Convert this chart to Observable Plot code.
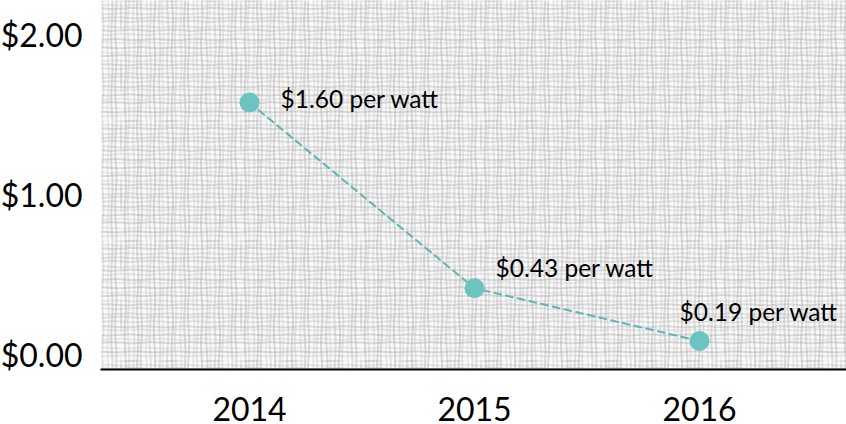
<!DOCTYPE html>
<html>
<head>
<meta charset="utf-8">
<script src="https://cdn.jsdelivr.net/npm/d3@7"></script>
<script src="https://cdn.jsdelivr.net/npm/@observablehq/plot@0.6"></script>
<style>
  html, body { margin: 0; padding: 0; background: #fff; }
  svg { display: block; font-family: Lato, "Open Sans", sans-serif; }
</style>
</head>
<body>
<div id="chart"></div>
<script>
const years = ["2014", "2015", "2016"];
const values = [1.59, 0.43, 0.10];
const labels = ["$1.60 per watt", "$0.43 per watt", "$0.19 per watt"];
const yTicks = [0, 1, 2];

const data = years.map((year, i) => ({year, value: values[i], label: labels[i]}));

const teal = "#6cc4c1";

const chart = Plot.plot({
  width: 846,
  height: 424,
  marginLeft: 101,
  marginRight: 0,
  marginTop: 0,
  marginBottom: 55,
  style: {fontFamily: "Lato, sans-serif", color: "#000", background: "transparent", overflow: "visible"},
  x: {type: "point", domain: years, padding: 0.65, label: null},
  y: {domain: [-0.078, 2.228], label: null},
  marks: [
    Plot.frame({fill: "url(#gridtex)", stroke: null}),
    Plot.frame({anchor: "bottom", stroke: "#000", strokeWidth: 2}),
    Plot.axisX({tickSize: 0, tickPadding: 29, fontSize: 32, label: null}),
    Plot.axisY({ticks: yTicks, tickSize: 0, tickPadding: 19, fontSize: 32, label: null,
      tickFormat: d => "$" + d.toFixed(2)}),
    Plot.line(data, {x: "year", y: "value", stroke: "#5fb5b3", strokeWidth: 2, strokeDasharray: "7,5"}),
    Plot.dot(data, {x: "year", y: "value", r: 10, fill: teal, stroke: null}),
    Plot.text(data.filter(d => d.year === "2014"), {x: "year", y: "value", text: "label", textAnchor: "start", dx: 31, dy: -2, fontSize: 24.5, fill: "#000"}),
    Plot.text(data.filter(d => d.year === "2015"), {x: "year", y: "value", text: "label", textAnchor: "start", dx: 21, dy: -19, fontSize: 24.5, fill: "#000"}),
    Plot.text(data.filter(d => d.year === "2016"), {x: "year", y: "value", text: "label", textAnchor: "start", dx: -20, dy: -28, fontSize: 24.5, fill: "#000"})
  ]
});

// hand-drawn grid texture pattern
const ns = "http://www.w3.org/2000/svg";
const defs = document.createElementNS(ns, "defs");
const pat = document.createElementNS(ns, "pattern");
pat.setAttribute("id", "gridtex");
pat.setAttribute("patternUnits", "userSpaceOnUse");
pat.setAttribute("width", 120);
pat.setAttribute("height", 120);
const bg = document.createElementNS(ns, "rect");
bg.setAttribute("width", 120); bg.setAttribute("height", 120); bg.setAttribute("fill", "#fbfbfb");
pat.appendChild(bg);
const n = 28;
for (let i = 0; i < n; i++) {
  const base = i * 120 / n + 0.6 * Math.sin(i * 2.3);
  const op = 0.4 + 0.4 * (0.5 + 0.5 * Math.sin(i * 1.7 + 0.4));
  let dv = "", dh = "";
  for (let k = 0; k <= 12; k++) {
    const t = k * 10;
    const off = 0.7 * Math.sin((t / 120) * 2 * Math.PI * 2 + i);
    dv += (k ? "L" : "M") + (base + off).toFixed(2) + "," + t;
    dh += (k ? "L" : "M") + t + "," + (base + 0.6 * Math.sin((t / 120) * 2 * Math.PI * 3 + i * 1.3)).toFixed(2);
  }
  const pv = document.createElementNS(ns, "path");
  pv.setAttribute("d", dv); pv.setAttribute("fill", "none");
  pv.setAttribute("stroke", "#9a9a9a"); pv.setAttribute("stroke-width", 0.9);
  pv.setAttribute("stroke-opacity", op.toFixed(2));
  pat.appendChild(pv);
  const ph = document.createElementNS(ns, "path");
  const op2 = 0.4 + 0.4 * (0.5 + 0.5 * Math.sin(i * 2.9 + 1.1));
  ph.setAttribute("d", dh); ph.setAttribute("fill", "none");
  ph.setAttribute("stroke", "#9a9a9a"); ph.setAttribute("stroke-width", 0.9);
  ph.setAttribute("stroke-opacity", op2.toFixed(2));
  pat.appendChild(ph);
}
defs.appendChild(pat);
chart.insertBefore(defs, chart.firstChild);

document.getElementById("chart").appendChild(chart);
</script>
</body>
</html>
